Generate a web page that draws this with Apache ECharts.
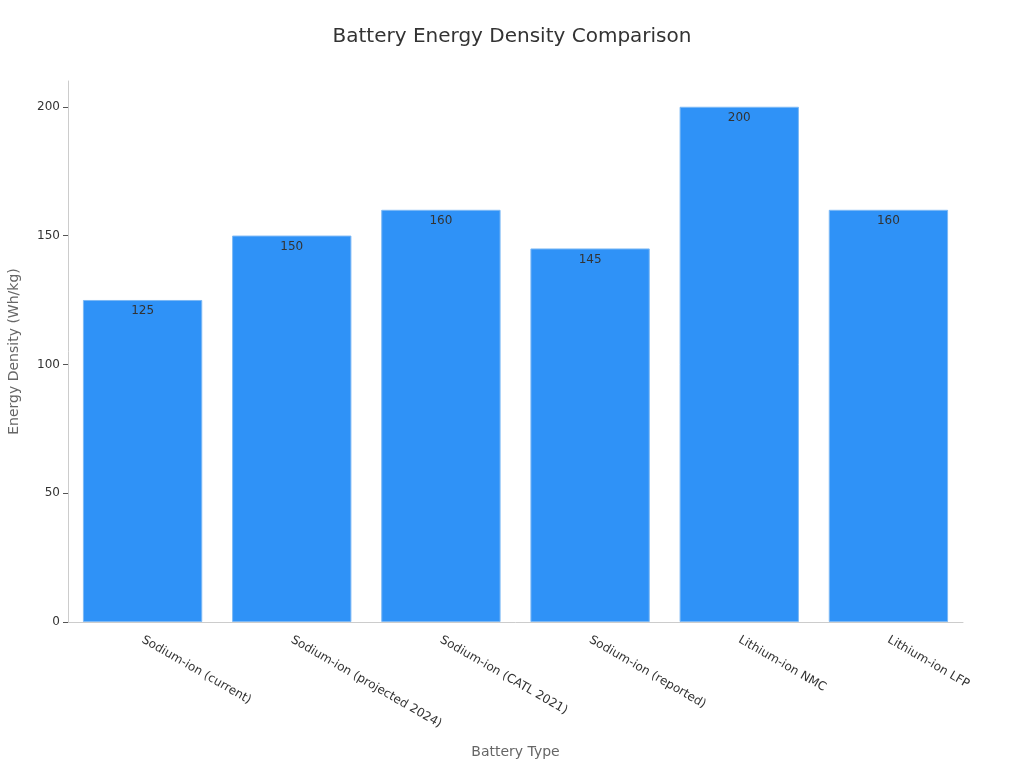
<!DOCTYPE html>
<html><head><meta charset="utf-8">
<script src="https://cdn.jsdelivr.net/npm/echarts@6/dist/echarts.min.js"></script>
<style>html,body{margin:0;padding:0;background:#fff}#c{width:1024px;height:768px}</style>
</head><body><div id="c"></div>
<script>
const categories = ["Sodium-ion (current)", "Sodium-ion (projected 2024)", "Sodium-ion (CATL 2021)", "Sodium-ion (reported)", "Lithium-ion NMC", "Lithium-ion LFP"];
const energyDensity = [125, 150, 160, 145, 200, 160];
const yTicks = [0, 50, 100, 150, 200];

const chart = echarts.init(document.getElementById('c'));
chart.setOption({
  animation: false,
  textStyle: { fontFamily: 'DejaVu Sans' },
  title: { text: 'Battery Energy Density Comparison', left: 'center', top: 22,
    textStyle: { fontSize: 20, fontWeight: 'normal', color: '#333', fontFamily: 'DejaVu Sans' } },
  grid: { left: 68, right: 61, top: 81, bottom: 146, containLabel: false, outerBoundsMode: 'none' },
  xAxis: {
    type: 'category', data: categories,
    name: 'Battery Type', nameLocation: 'middle', nameGap: 123,
    nameTextStyle: { fontSize: 14, color: '#666' },
    axisLine: { lineStyle: { color: '#ccc' } },
    axisTick: { alignWithLabel: true, lineStyle: { color: '#555' } },
    axisLabel: { rotate: -30, fontSize: 12, color: '#333', margin: 17 }
  },
  yAxis: {
    type: 'value', min: 0, max: 210,
    name: 'Energy Density (Wh/kg)', nameLocation: 'middle', nameGap: 47,
    nameTextStyle: { fontSize: 14, color: '#666' },
    axisLine: { show: true, lineStyle: { color: '#ccc' } },
    axisTick: { show: true, customValues: yTicks, lineStyle: { color: '#555' } },
    splitLine: { show: false },
    axisLabel: { fontSize: 12, color: '#333', customValues: yTicks }
  },
  series: [{
    type: 'bar', data: energyDensity, barCategoryGap: '20%',
    itemStyle: { color: '#2F92F7', borderColor: '#7DB9F5', borderWidth: 1 },
    label: { show: true, position: 'insideTop', color: '#333', fontSize: 12, distance: 5 }
  }]
});
</script></body></html>
